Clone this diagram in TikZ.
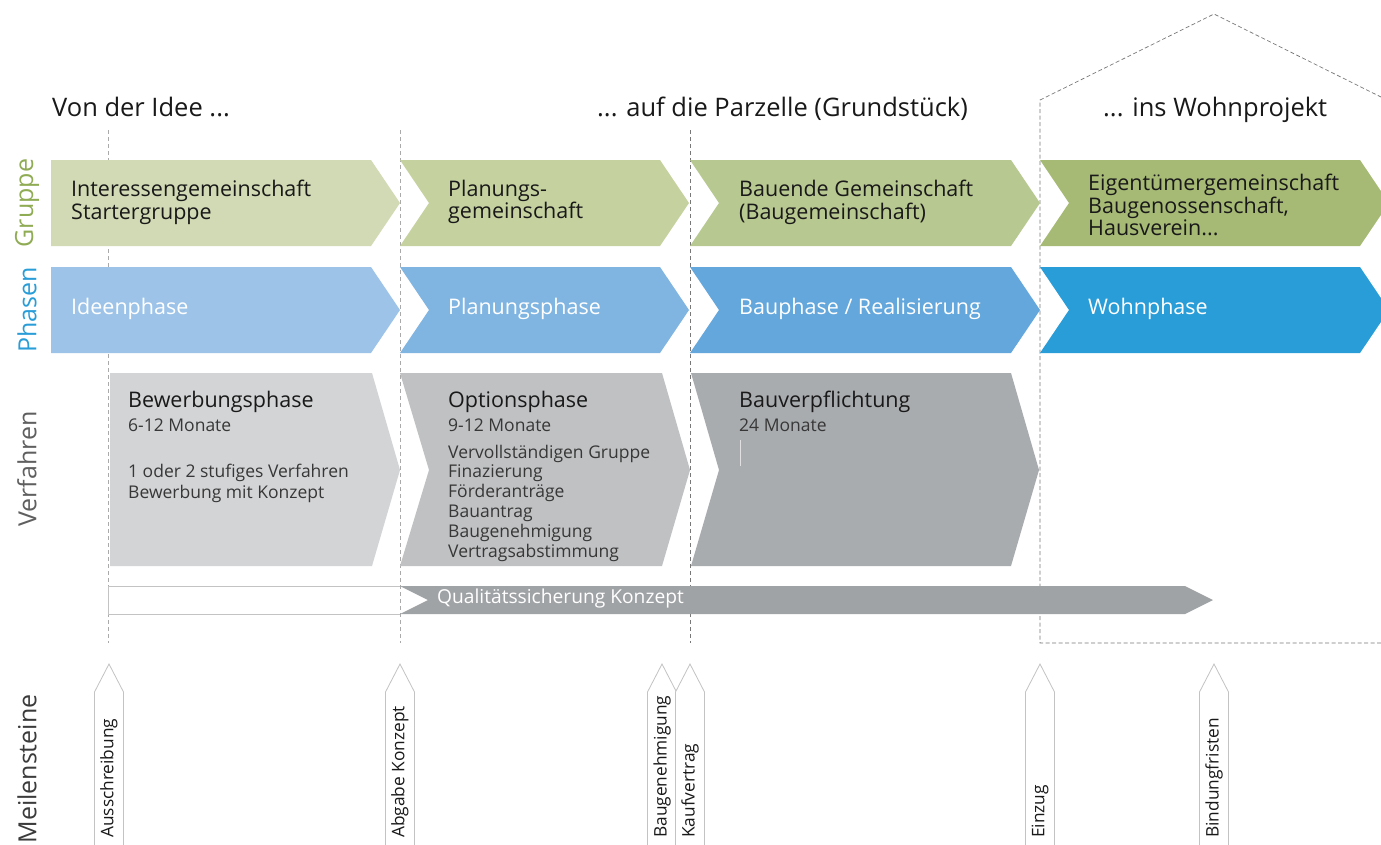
\documentclass[tikz,border=0pt]{standalone}
\usepackage{fontspec}
\setmainfont{Open Sans}
\definecolor{g1}{RGB}{209,218,180}
\definecolor{g2}{RGB}{197,210,160}
\definecolor{g3}{RGB}{184,200,145}
\definecolor{g4}{RGB}{166,186,117}
\definecolor{p1}{RGB}{157,196,232}
\definecolor{p2}{RGB}{128,181,226}
\definecolor{p3}{RGB}{99,167,220}
\definecolor{p4}{RGB}{41,157,216}
\definecolor{v1}{RGB}{211,212,214}
\definecolor{v2}{RGB}{192,193,195}
\definecolor{v3}{RGB}{169,172,175}
\definecolor{qgray}{RGB}{160,163,166}
\definecolor{lblgreen}{RGB}{143,171,84}
\definecolor{lblblue}{RGB}{41,157,216}
\definecolor{lblgray}{RGB}{95,95,95}
\definecolor{txt}{RGB}{25,25,25}
\definecolor{subtxt}{RGB}{55,55,55}
\definecolor{msline}{RGB}{195,195,195}
\definecolor{dashlight}{RGB}{170,170,170}
\definecolor{dashdark}{RGB}{120,120,120}
\newcommand{\fs}[2]{\fontsize{#1}{#2}\selectfont}
\begin{document}
\begin{tikzpicture}[x=1pt,y=-1pt,
  header/.style={anchor=base west,inner sep=0pt,text=txt,font=\fs{25.5}{30}},
  rowlabel/.style={rotate=90,inner sep=0pt,font=\fs{25}{28}},
  boxtext/.style={anchor=west,inner sep=0pt,align=left,text=txt,font=\fs{21.5}{22.8}},
  phasetext/.style={anchor=west,inner sep=0pt,text=white,font=\fs{21.5}{24}},
  vtitle/.style={anchor=base west,inner sep=0pt,text=txt,font=\fs{21.5}{24}},
  vsub/.style={anchor=base west,inner sep=0pt,align=left,text=subtxt,font=\fs{17.5}{19.8}},
  mstext/.style={rotate=90,anchor=west,inner sep=0pt,text=txt,font=\fs{17.3}{19}},
  msshape/.style={draw=msline,line width=0.8pt,fill=white},
  vdash/.style={line width=1pt,dash pattern=on 4pt off 3pt},
  housedash/.style={draw=dashdark,line width=0.7pt,dash pattern=on 4pt off 2.5pt}]
\useasboundingbox (0,0) rectangle (1381,844);
\fill[white] (0,0) rectangle (1381,844);

% dashed guide lines
\coordinate (d1t) at (108,130); \coordinate (d1b) at (108,643);
\coordinate (d2t) at (400,130); \coordinate (d2b) at (400,643);
\coordinate (d3t) at (690,130); \coordinate (d3b) at (690,643);
\draw[vdash,dashlight] (d1t) -- (d1b);
\draw[vdash,dashlight] (d2t) -- (d2b);
\draw[vdash,dashdark,line width=0.8pt] (d3t) -- (d3b);
% house outline
\coordinate (hbl) at (1040,643); \coordinate (hwl) at (1040,100);
\coordinate (hap) at (1214,14); \coordinate (hwr) at (1381,97);
\coordinate (hbr) at (1381,643);
\draw[housedash] (hbr) -- (hbl) -- (hwl) -- (hap) -- (hwr);

% headers
\node[header] (h1) at (52,116) {Von der Idee ...};
\node[header] (h2) at (597,116) {... auf die Parzelle (Grundstück)};
\node[header] (h3) at (1103,116) {... ins Wohnprojekt};

% row labels
\node[rowlabel,text=lblgreen] (lg) at (27,203) {Gruppe};
\node[rowlabel,text=lblblue] (lp) at (27,310) {Phasen};
\node[rowlabel,text=lblgray] (lv) at (27,469) {Verfahren};
\node[rowlabel,text=txt!85] (lm) at (27,769) {Meilensteine};

% Gruppe row
\fill[g1] (51,160)--(371,160)--(400,203)--(371,246)--(51,246)--cycle;
\fill[g2] (400,160)--(660,160)--(689,203)--(660,246)--(400,246)--(429,203)--cycle;
\fill[g3] (690,160)--(1011,160)--(1040,203)--(1011,246)--(690,246)--(719,203)--cycle;
\fill[g4] (1040,160)--(1360,160)--(1389,203)--(1360,246)--(1040,246)--(1069,203)--cycle;
\node[boxtext] (gt1) at (71,202) {Interessengemeinschaft\\Startergruppe};
\node[boxtext] (gt2) at (448,202) {Planungs-\\gemeinschaft};
\node[boxtext] (gt3) at (739,202) {Bauende Gemeinschaft\\(Baugemeinschaft)};
\node[boxtext] (gt4) at (1088,205) {Eigentümergemeinschaft\\Baugenossenschaft,\\Hausverein...};

% Phasen row
\fill[p1] (51,267)--(371,267)--(400,310)--(371,353)--(51,353)--cycle;
\fill[p2] (400,267)--(660,267)--(689,310)--(660,353)--(400,353)--(429,310)--cycle;
\fill[p3] (690,267)--(1011,267)--(1040,310)--(1011,353)--(690,353)--(719,310)--cycle;
\fill[p4] (1040,267)--(1360,267)--(1389,310)--(1360,353)--(1040,353)--(1069,310)--cycle;
\node[phasetext] (pt1) at (71,309) {Ideenphase};
\node[phasetext] (pt2) at (448,309) {Planungsphase};
\node[phasetext] (pt3) at (739,309) {Bauphase / Realisierung};
\node[phasetext] (pt4) at (1088,309) {Wohnphase};

% Verfahren row
\fill[v1] (110,373)--(372,373)--(400,470)--(372,566)--(110,566)--cycle;
\fill[v2] (400,373)--(662,373)--(690,470)--(662,566)--(400,566)--(429,470)--cycle;
\fill[v3] (691,373)--(1011,373)--(1039,470)--(1011,566)--(691,566)--(719,470)--cycle;
\draw[white!88!black,line width=0.6pt] (740,440) -- (740,466);
\node[vtitle] (vt1) at (128,407) {Bewerbungsphase};
\node[vsub] (vs1) at (128,431) {6-12 Monate};
\node[vsub,font=\fs{17.5}{21}] (vl1) at (128,498) {1 oder 2 stufiges Verfahren\\Bewerbung mit Konzept};
\node[vtitle] (vt2) at (448,407) {Optionsphase};
\node[vsub] (vs2) at (448,431) {9-12 Monate};
\node[vsub] (vl2) at (448,557) {Vervollständigen Gruppe\\Finazierung\\Förderanträge\\Bauantrag\\Baugenehmigung\\Vertragsabstimmung};
\node[vtitle] (vt3) at (739,407) {Bauverpflichtung};
\node[vsub] (vs3) at (739,431) {24 Monate};

% Qualitaetssicherung bar
\filldraw[fill=white,draw=msline,line width=0.7pt] (400,586)--(108,586)--(108,614)--(400,614);
\fill[qgray] (400,586)--(1185,586)--(1213,600)--(1185,614)--(400,614)--(428,600)--cycle;
\node[anchor=west,inner sep=0pt,text=white,font=\fs{19.2}{22}] (qt) at (437,599) {Qualitätssicherung Konzept};

% milestones
\foreach \x/\nm/\lab in {109/m1/Ausschreibung,400/m2/Abgabe Konzept,662/m3/Baugenehmigung,690/m4/Kaufvertrag,1040/m5/Einzug,1214/m6/Bindungfristen}{
  \draw[msshape] (\x-14.5,846) -- (\x-14.5,692) -- (\x,664) -- (\x+14.5,692) -- (\x+14.5,846);
  \node[mstext] (\nm) at (\x,838) {\lab};
}
\end{tikzpicture}
\end{document}
